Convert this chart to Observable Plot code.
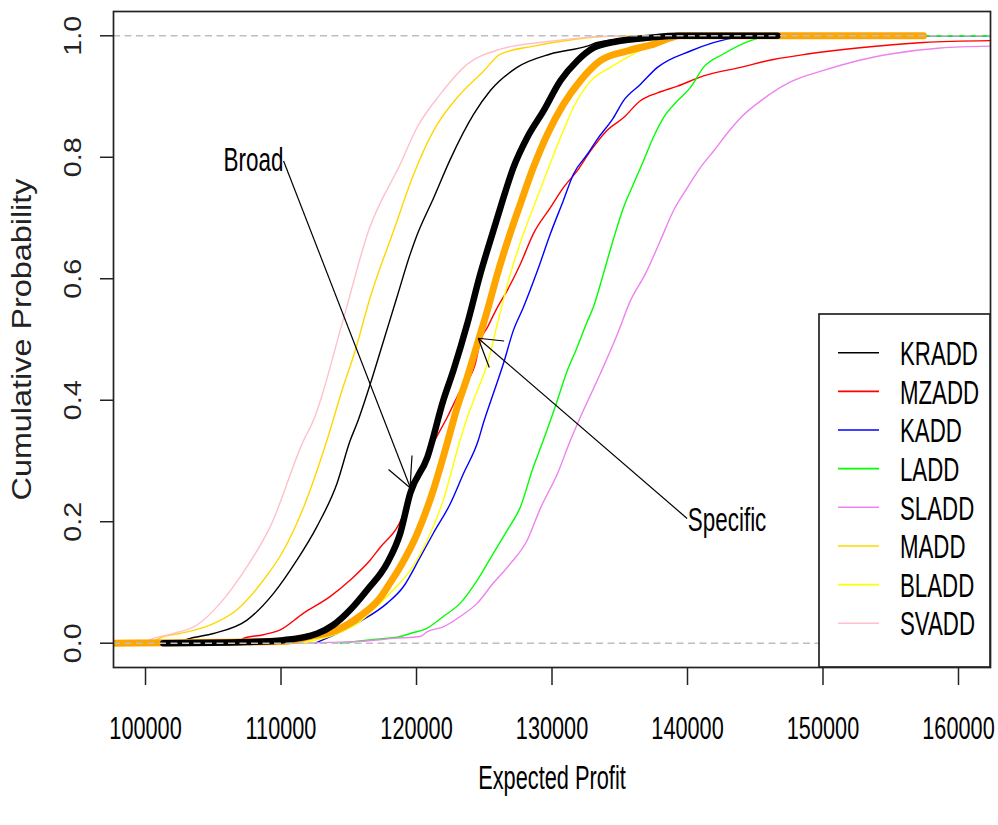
<!DOCTYPE html>
<html>
<head>
<meta charset="utf-8">
<script src="https://cdn.jsdelivr.net/npm/d3@7"></script>
<script src="https://cdn.jsdelivr.net/npm/@observablehq/plot@0.6"></script>
<style>
  html, body { margin: 0; padding: 0; background: #ffffff; }
  #chart { width: 998px; height: 825px; }
</style>
</head>
<body>
<div id="chart"></div>
<script>
// ---------------- data ----------------
const seriesNames  = ["KRADD", "MZADD", "KADD", "LADD", "SLADD", "MADD", "BLADD", "SVADD"];
const seriesColors = ["#000000", "#ff0000", "#0000ff", "#00ff00", "#ee82ee", "#ffd700", "#ffff00", "#ffc0cb"];

const kraddProfit = [102190,103300,105020,107490,109450,111180,112650,114130,115110,115610,116590,117570,118560,119540,120040,121260,122500,124220,125450,127420,129880,132590,133330,136010,137260];
const kraddProb   = [0,0.008,0.016,0.038,0.082,0.137,0.192,0.263,0.334,0.362,0.427,0.498,0.570,0.641,0.672,0.733,0.797,0.871,0.910,0.948,0.970,0.983,0.989,0.997,1.0];

const mzaddProfit = [106990,107210,108690,109950,111640,113640,115110,116590,117330,118580,119910,121240,122270,123230,124340,124710,125230,125970,126700,127660,128620,129880,130840,131870,132830,134090,135270,136520,137780,139260,141180,143910,146340,148850,152550,157420,162360];
const mzaddProb   = [0,0.008,0.014,0.022,0.049,0.077,0.104,0.137,0.158,0.191,0.26,0.329,0.372,0.416,0.460,0.498,0.52,0.553,0.581,0.624,0.674,0.717,0.750,0.778,0.810,0.845,0.865,0.893,0.906,0.917,0.934,0.948,0.961,0.970,0.980,0.989,0.992];

const kaddProfit  = [112530,114150,115850,117840,119030,120280,121240,122500,123460,124560,124930,125670,126410,127150,127890,128920,129880,130840,131580,132610,133350,134530,135270,136520,137780,140220,143390,145380,163000];
const kaddProb    = [0,0.016,0.036,0.066,0.093,0.142,0.181,0.230,0.279,0.334,0.362,0.411,0.46,0.515,0.553,0.613,0.674,0.729,0.772,0.805,0.83,0.865,0.893,0.920,0.948,0.975,0.9965,1.0,1.0];

const laddProfit  = [114370,116810,118800,119540,120800,121980,123230,124490,125670,126700,127660,128620,129360,130250,131130,131720,132610,133050,133790,134530,135270,136010,136750,137480,138220,139260,140220,141180,142650,144650,146340,163000];
const laddProb    = [0,0.006,0.011,0.016,0.025,0.044,0.066,0.104,0.148,0.186,0.224,0.29,0.334,0.39,0.449,0.48,0.53,0.553,0.608,0.665,0.717,0.756,0.794,0.833,0.865,0.893,0.915,0.948,0.970,0.992,1.0,1.0];

const sladdProfit = [110680,115850,118290,120280,120800,121980,123230,124490,125670,126930,128180,129140,130400,131360,132090,133570,134830,135790,136890,138000,138960,139990,140950,141990,143020,144050,145530,147600,150040,152550,154980,158670,162360];
const sladdProb   = [0,0.003,0.008,0.011,0.019,0.027,0.044,0.066,0.099,0.131,0.170,0.222,0.279,0.334,0.372,0.444,0.509,0.564,0.608,0.663,0.712,0.750,0.783,0.812,0.842,0.868,0.895,0.924,0.943,0.959,0.970,0.980,0.983];

const maddProfit  = [100350,101330,102560,104780,106750,108710,110190,111670,113390,114500,115480,116590,118310,119790,121260,122990,124960,126190,128650,131600,134800,137260];
const maddProb    = [0,0.011,0.016,0.030,0.055,0.104,0.153,0.224,0.334,0.416,0.482,0.570,0.679,0.772,0.844,0.898,0.942,0.970,0.983,0.994,0.9995,1.0];

const bladdProfit = [111420,114150,115850,116810,118290,119540,120800,121980,123160,123750,124490,125230,125970,126930,127890,128620,129660,130840,131580,132830,134310,136010,137780,139480];
const bladdProb   = [0,0.016,0.036,0.055,0.088,0.120,0.170,0.236,0.33,0.372,0.416,0.460,0.526,0.608,0.674,0.717,0.778,0.844,0.882,0.925,0.948,0.970,0.991,1.0];

const svaddProfit = [99680,100590,102070,103800,105520,107490,109210,111670,112380,114570,116460,118800,120040,121760,123730,126190,129880,132320,135050];
const svaddProb   = [0,0.008,0.016,0.030,0.066,0.126,0.192,0.334,0.366,0.531,0.679,0.789,0.849,0.904,0.953,0.978,0.991,0.997,1.0];

// the two bold curves (Broad = black, Specific = orange)
const broadProfit = [101310,107510,110170,112680,113860,115110,116370,117840,118800,119540,120800,121980,122720,123750,124710,125670,126190,127150,128180,129360,130620,131870,133050,134830,137260,139260,146640];
const broadProb   = [0,0.002,0.005,0.016,0.03,0.055,0.088,0.132,0.181,0.247,0.306,0.400,0.449,0.526,0.608,0.679,0.717,0.783,0.833,0.876,0.926,0.959,0.980,0.991,0.997,1.0,1.0];

const specificProfit = [96660,110170,112160,114150,115850,117330,118070,118800,120060,121240,122270,123010,123750,124560,125230,125970,126930,127660,128620,129660,130840,132090,133570,135560,137480,139480,157420];
const specificProb   = [0,0.003,0.011,0.022,0.045,0.075,0.10,0.126,0.181,0.252,0.33,0.389,0.438,0.498,0.548,0.608,0.676,0.723,0.783,0.838,0.887,0.926,0.959,0.975,0.986,1.0,1.0];

// axis ticks
const xTicks = [100000, 110000, 120000, 130000, 140000, 150000, 160000];
const yTicks = [0, 0.2, 0.4, 0.6, 0.8, 1.0];

// annotations
const annotLabels     = ["Broad", "Specific"];
const annotLabelX     = [107970, 142920];
const annotLabelY     = [0.794, 0.2026];
const annotFromX      = [110190, 139970];
const annotFromY      = [0.794, 0.2054];
const annotToX        = [119560, 124590];
const annotToY        = [0.2552, 0.5012];

// ---------------- build tables ----------------
const profitArrays = [kraddProfit, mzaddProfit, kaddProfit, laddProfit, sladdProfit, maddProfit, bladdProfit, svaddProfit];
const probArrays   = [kraddProb, mzaddProb, kaddProb, laddProb, sladdProb, maddProb, bladdProb, svaddProb];
const rowsOf = (xs, ps) => xs.map((x, j) => ({x, p: ps[j]}));
const thinSeries = seriesNames.map((name, i) => ({name, color: seriesColors[i], rows: rowsOf(profitArrays[i], probArrays[i])}));
const broadRows = rowsOf(broadProfit, broadProb);
const specificRows = rowsOf(specificProfit, specificProb);
const annotRows = annotLabels.map((label, i) => ({
  label, lx: annotLabelX[i], ly: annotLabelY[i],
  x1: annotFromX[i], y1: annotFromY[i], x2: annotToX[i], y2: annotToY[i]
}));

const FONT = "'Liberation Sans', Arial, Helvetica, sans-serif";
const tag = (s) => () => s;   // constant aria-label channel, used to find the texts afterwards

const plot = Plot.plot({
  width: 998,
  height: 825,
  marginLeft: 113,
  marginRight: 8,
  marginTop: 11,
  marginBottom: 158,
  style: {fontFamily: FONT, background: "#ffffff", color: "#000000", overflow: "visible"},
  x: {domain: [97637, 162362]},
  y: {domain: [-0.04, 1.04]},
  marks: [
    ...thinSeries.map(s => Plot.line(s.rows, {x: "x", y: "p", stroke: s.color, strokeWidth: 1.4, strokeLinejoin: "round", curve: "monotone-x", clip: true})),
    Plot.line(specificRows, {x: "x", y: "p", stroke: "#ffa500", strokeWidth: 7, strokeLinejoin: "round", curve: "monotone-x", clip: true}),
    Plot.line(broadRows, {x: "x", y: "p", stroke: "#000000", strokeWidth: 6.5, strokeLinejoin: "round", curve: "monotone-x", clip: true}),
    Plot.ruleY([0, 1], {stroke: "#bebebe", strokeWidth: 1.6, strokeDasharray: "7,4.5"}),
    Plot.link(annotRows, {x1: "x1", y1: "y1", x2: "x2", y2: "y2", stroke: "#000000", strokeWidth: 1.2}),
    Plot.text(annotRows, {x: "lx", y: "ly", text: "label", fontSize: 33, fill: "#000000", textAnchor: "middle", lineAnchor: "middle", ariaLabel: tag("annotation label")}),
    Plot.frame({stroke: "#222222", strokeWidth: 1.7}),
    Plot.axisX({ticks: xTicks, tickFormat: d => String(d), tickSize: 18, tickPadding: 31, fontSize: 31, stroke: "#222222", strokeWidth: 1.5, fill: "#000000", label: null}),
    Plot.axisY({ticks: yTicks, tickFormat: () => "", tickSize: 13, stroke: "#222222", strokeWidth: 1.5, label: null}),
    Plot.text(yTicks, {y: d => d, text: d => d.toFixed(1), frameAnchor: "left", dx: -40, rotate: -90, textAnchor: "middle", lineAnchor: "middle", fontSize: 23.3, fill: "#222222", ariaLabel: tag("y tick text")}),
    Plot.text(["Expected Profit"], {text: d => d, frameAnchor: "bottom", dy: 111, textAnchor: "middle", lineAnchor: "middle", fontSize: 33, fill: "#000000", ariaLabel: tag("x title")}),
    Plot.text(["Cumulative Probability"], {text: d => d, frameAnchor: "left", dx: -91, rotate: -90, textAnchor: "middle", lineAnchor: "middle", fontSize: 28, fill: "#222222", ariaLabel: tag("y title")})
  ]
});

document.getElementById("chart").appendChild(plot);

// ---------- emulate the stretched raster look of the original text ----------
function stretch(label, sx, sy) {
  const sel = `g[aria-label="${label}"] text, text[aria-label="${label}"]`;
  plot.querySelectorAll(sel).forEach(t => {
    const x = parseFloat(t.getAttribute("x")) || 0;
    const y = parseFloat(t.getAttribute("y")) || 0;
    let ax = x, ay = y;
    const c = t.transform && t.transform.baseVal && t.transform.baseVal.numberOfItems ? t.transform.baseVal.consolidate() : null;
    if (c) { const m = c.matrix; ax = m.a * x + m.c * y + m.e; ay = m.b * x + m.d * y + m.f; }
    const g = document.createElementNS("http://www.w3.org/2000/svg", "g");
    g.setAttribute("transform", `translate(${ax},${ay}) scale(${sx},${sy}) translate(${-ax},${-ay})`);
    t.parentNode.insertBefore(g, t);
    g.appendChild(t);
  });
}
stretch("x-axis tick label", 0.70, 1);
stretch("annotation label", 0.68, 1);
stretch("x title", 0.66, 1);
stretch("y tick text", 1, 1.235);
stretch("y title", 1, 1.156);

// ---------- arrow heads (drawn like R's arrows(), in the stretched aspect) ----------
const xs = plot.scale("x"), ys = plot.scale("y");
const svg = d3.select(plot);
const heads = svg.append("g").attr("aria-label", "arrow heads").attr("stroke", "#000").attr("stroke-width", 1.2);
const STRETCH = 1.24, WING = 26;
annotRows.forEach(a => {
  const tx = xs.apply(a.x2), ty = ys.apply(a.y2);
  const ox = xs.apply(a.x1), oy = ys.apply(a.y1);
  let vx = ox - tx, vy = (oy - ty) / STRETCH;
  const n = Math.hypot(vx, vy); vx /= n; vy /= n;
  [30, -30].forEach(deg => {
    const r = deg * Math.PI / 180;
    const wx = vx * Math.cos(r) - vy * Math.sin(r);
    const wy = vx * Math.sin(r) + vy * Math.cos(r);
    heads.append("line").attr("x1", tx).attr("y1", ty)
      .attr("x2", tx + WING * wx).attr("y2", ty + WING * wy * STRETCH);
  });
});

// ---------- legend box (bottom-right, inside the plot region) ----------
const xr = xs.range, yr = ys.range;
const right = Math.max(...xr), bottom = Math.max(...yr);
const LW = 171, LH = 353, ROW = 38.65;
const lg = svg.append("g").attr("aria-label", "legend").attr("font-family", FONT).attr("text-anchor", "start");
lg.append("rect").attr("x", right - LW).attr("y", bottom - LH).attr("width", LW).attr("height", LH)
  .attr("fill", "#ffffff").attr("stroke", "#222222").attr("stroke-width", 1.7);
seriesNames.forEach((name, i) => {
  const cy = bottom - LH + 38.7 + i * ROW;
  lg.append("line").attr("x1", right - 152).attr("x2", right - 111).attr("y1", cy).attr("y2", cy)
    .attr("stroke", seriesColors[i]).attr("stroke-width", 1.6);
  const tx = right - 90;
  lg.append("text").attr("x", tx).attr("y", cy).attr("dy", "0.36em")
    .attr("text-anchor", "start")
    .attr("font-size", 34).attr("fill", "#000000")
    .attr("transform", `translate(${tx},${cy}) scale(0.655,1) translate(${-tx},${-cy})`)
    .text(name);
});
</script>
</body>
</html>
